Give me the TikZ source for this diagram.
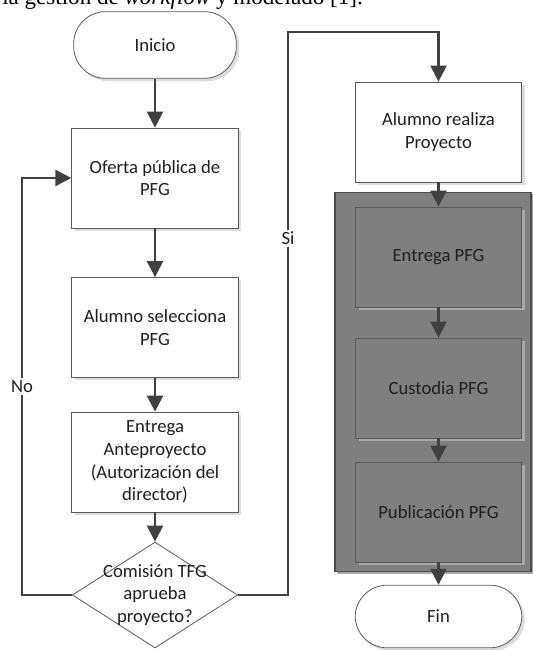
\documentclass[tikz,border=0pt]{standalone}
\usepackage{fontspec}
\setmainfont{Carlito}
\newfontfamily\textserif{Liberation Serif}
\usetikzlibrary{shapes.geometric,shadows,arrows.meta}

\definecolor{linegray}{HTML}{404040}
\definecolor{boxline}{HTML}{595959}
\definecolor{boxfill}{HTML}{7F7F7F}
\definecolor{shadelight}{HTML}{DDDDDD}
\definecolor{shadedark}{HTML}{A8A8A8}

\tikzset{
  base/.style={font=\fontsize{14}{17}\selectfont, text=black!88, align=center,
    draw=boxline, line width=0.6pt, inner sep=0pt},
  process/.style={base, rectangle, fill=white, minimum width=125pt, minimum height=75pt,
    general shadow={fill=shadelight, shadow xshift=2.2pt, shadow yshift=-2.2pt}},
  grayproc/.style={base, rectangle, fill=boxfill, minimum width=125pt, minimum height=75pt,
    general shadow={fill=shadedark, shadow xshift=2.6pt, shadow yshift=-2.6pt}},
  terminal/.style={base, rectangle, rounded corners=24pt, fill=white,
    general shadow={fill=shadelight, shadow xshift=2.2pt, shadow yshift=-2.2pt}},
  decision/.style={base, diamond, fill=white, minimum width=124pt, minimum height=79.5pt},
  group/.style={rectangle, draw=boxline!85!black, fill=boxfill, line width=0.8pt,
    minimum width=147pt, minimum height=285pt, inner sep=0pt,
    general shadow={fill=shadedark, shadow xshift=1.6pt, shadow yshift=-1.6pt}},
  flow/.style={draw=linegray, line width=1.8pt,
    -{Triangle[length=12pt, width=12pt]}},
  lbl/.style={font=\fontsize{14}{17}\selectfont, text=black!88, fill=white, inner sep=1.5pt}
}

\begin{document}
\begin{tikzpicture}
    \def\x{0.02636}
    \def\y{-0.02636}
    \clip (0, 0) rectangle (533*\x, 650*\y);
    \node (cap) [anchor=base west, inner sep=0pt, font=\textserif\fontsize{17.3}{20}\selectfont]
        at (2*\x, 5*\y) {la gestión de \textit{workflow} y modelado [1].};
    \node (grp) [group] at (433*\x, 382*\y) {};
    \node (ini) [terminal, minimum width=122pt, minimum height=50pt] at (155*\x, 45*\y) {Inicio};
    \node (ofe) [process] at (155*\x, 178*\y) {Oferta pública de\\PFG};
    \node (sel) [process] at (155*\x, 327.5*\y) {Alumno selecciona\\PFG};
    \node (ant) [process] at (155*\x, 462*\y) {Entrega\\Anteproyecto\\(Autorización del\\director)};
    \node (dec) [decision] at (155*\x, 595*\y) {};
    \node (dectxt) [base, draw=none] at (dec) {Comisión TFG\\aprueba\\proyecto?};
    \node (rea) [process] at (438.5*\x, 132*\y) {Alumno realiza\\Proyecto};
    \node (ent) [grayproc] at (438.5*\x, 257*\y) {Entrega PFG};
    \node (cus) [grayproc] at (438.5*\x, 388*\y) {Custodia PFG};
    \node (pub) [grayproc] at (438.5*\x, 512*\y) {Publicación PFG};
    \node (fin) [terminal, minimum width=125pt, minimum height=47pt] at (438.5*\x, 616.5*\y) {Fin};
    \coordinate (nocorner) at (22*\x, 595*\y);
    \coordinate (sicorner) at (288*\x, 32*\y);
    \path (ini) edge [flow] (ofe);
    \path (ofe) edge [flow] (sel);
    \path (sel) edge [flow] (ant);
    \path (ant) edge [flow] (dec);
    \path (rea) edge [flow] (ent);
    \path (ent) edge [flow] (cus);
    \path (cus) edge [flow] (pub);
    \path (pub) edge [flow] (fin);
    \draw [flow] (dec.west) -- (nocorner) |- node [lbl, pos=0.25] {No} (ofe.west);
    \draw [flow] (dec.east) -| node [lbl, pos=0.817] {Si} (sicorner) -| (rea.north);
\end{tikzpicture}
\end{document}
